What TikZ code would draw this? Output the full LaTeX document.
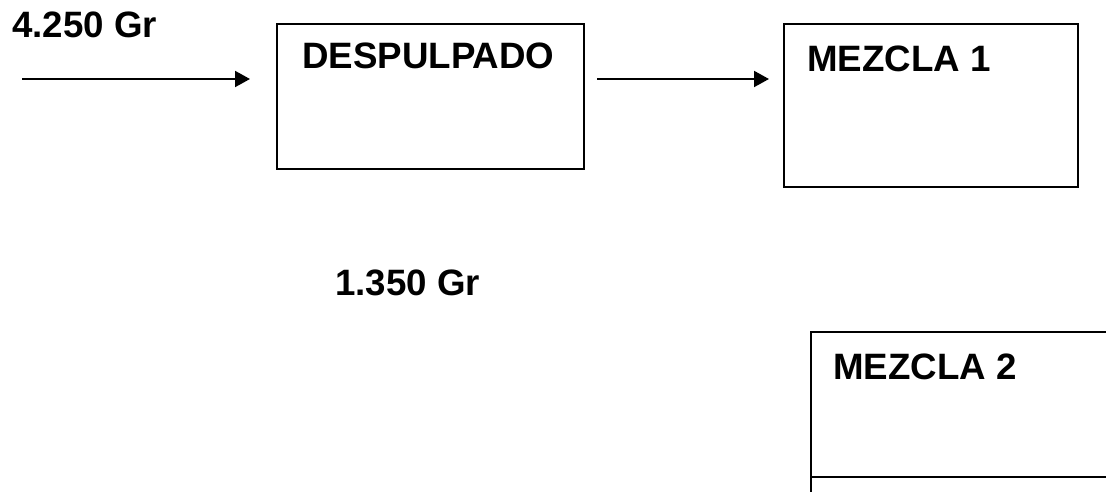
\documentclass[tikz,border=0pt]{standalone}
\usepackage{fontspec}
\setmainfont{Liberation Sans}
\usetikzlibrary{arrows.meta}
\tikzset{
  procbox/.style={draw=black, line width=2pt, rectangle, inner sep=0pt, outer sep=0pt},
  lbl/.style={anchor=base west, inner sep=0pt, font=\fontsize{36.7}{40}\selectfont\bfseries},
  flow/.style={line width=2pt, -{Triangle[length=15pt,width=16pt]}}
}
\begin{document}
\begin{tikzpicture}[x=1pt,y=-1pt]
\useasboundingbox (0,0) rectangle (1106,492);
\clip (0,0) rectangle (1106,492);
\fill[white] (0,0) rectangle (1106,492);
% boxes
\node[procbox, minimum width=307pt, minimum height=145pt] (desp) at (430.5,96.5) {};
\node[procbox, minimum width=294pt, minimum height=163pt] (mez1) at (931,105.5) {};
\node[procbox, minimum width=400pt, minimum height=145pt] (mez2) at (1011,404.5) {};
\coordinate (m2low) at (811,500);
\draw[line width=2pt] (mez2.south west) -- (m2low);
% labels
\node[lbl] (t1) at (12,38) {4.250 Gr};
\node[lbl] (tdesp) at (302,69) {DESPULPADO};
\node[lbl] (tmez1) at (807,72) {MEZCLA 1};
\node[lbl] (t2) at (335,295) {1.350 Gr};
\node[lbl] (tmez2) at (833,379) {MEZCLA 2};
% connectors
\coordinate (in) at (22,79);
\draw[flow, shorten >=27pt] (in) -- (in -| desp.west);
\draw[flow, shorten <=13pt, shorten >=15pt] (in -| desp.east) -- (in -| mez1.west);
\end{tikzpicture}
\end{document}
